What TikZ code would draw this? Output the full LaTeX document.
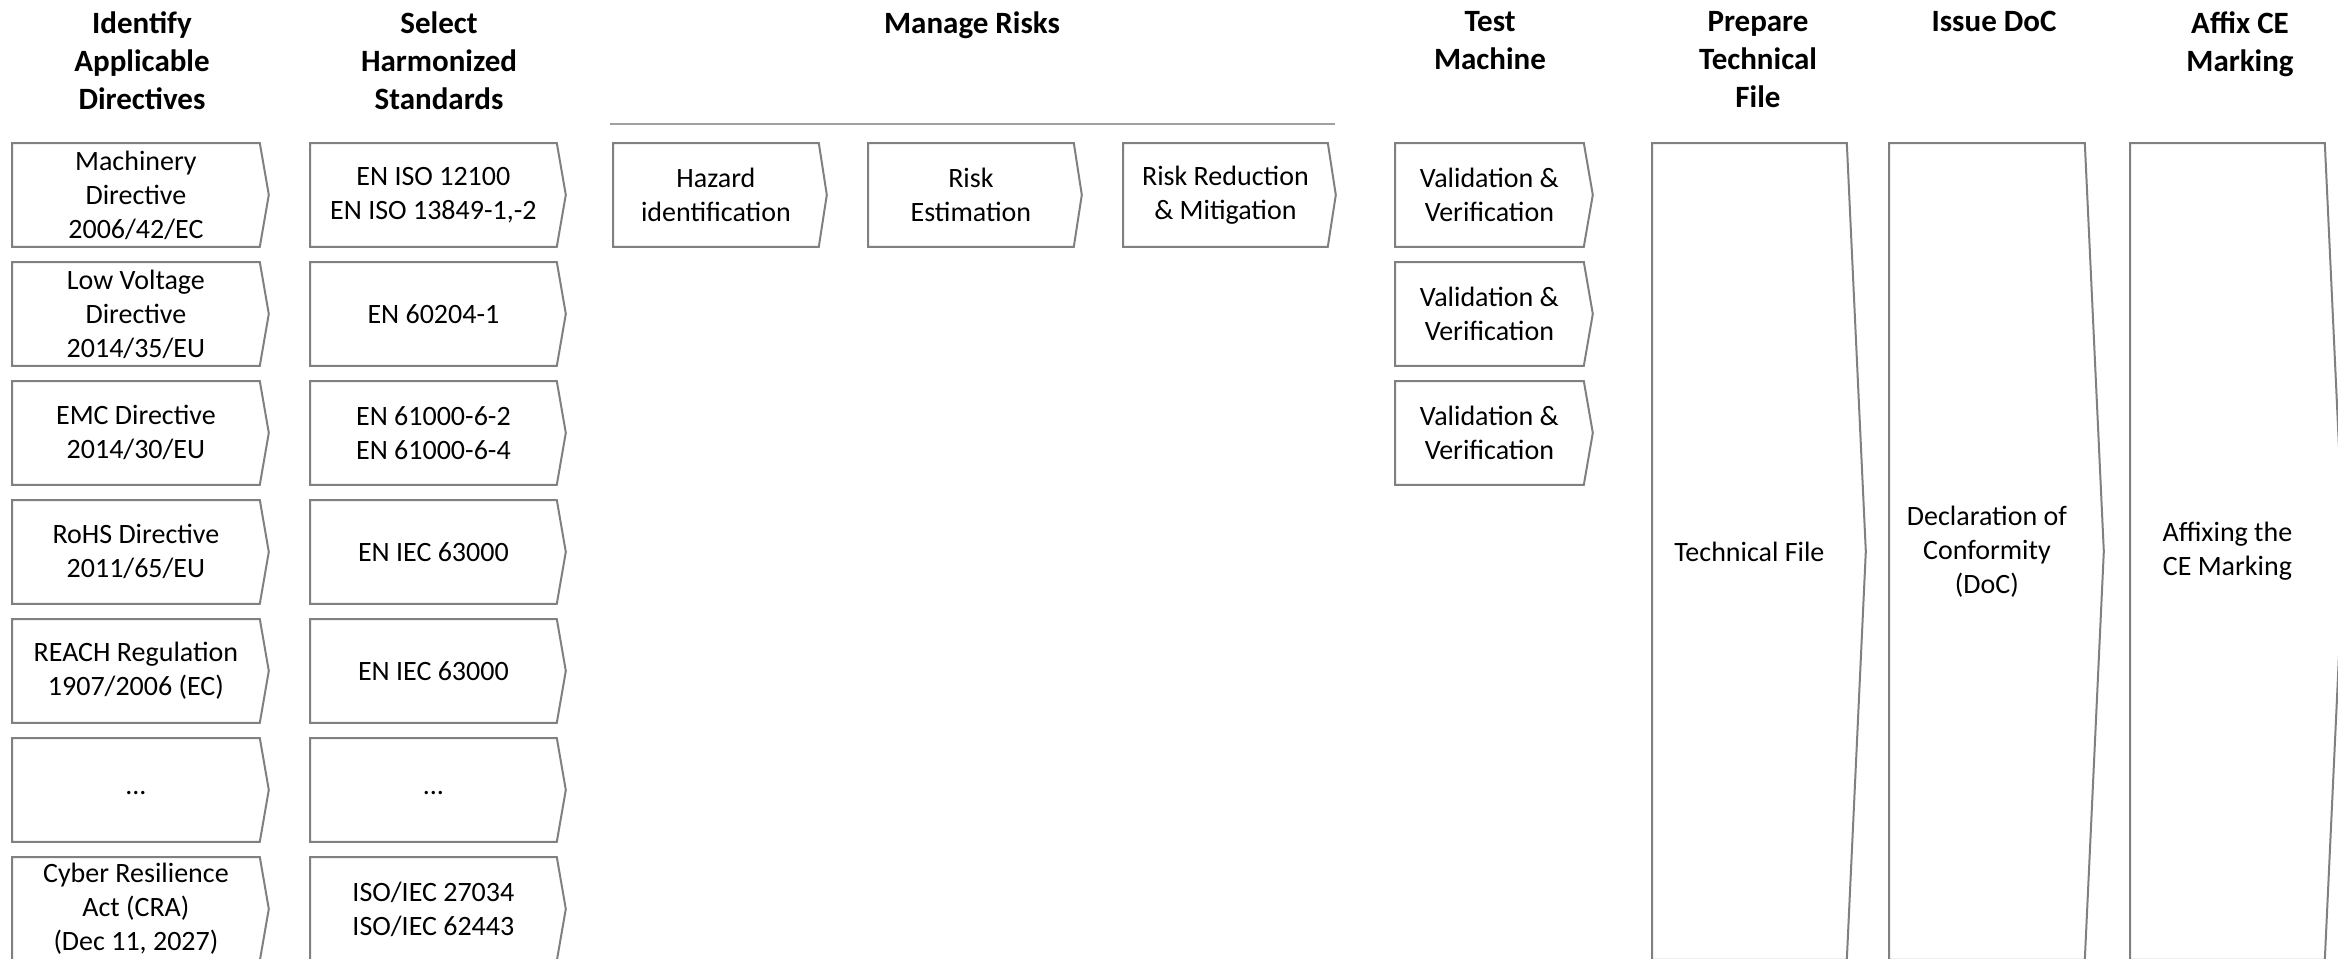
\documentclass[tikz,border=0pt]{standalone}
\usepackage{fontspec}
\setmainfont{Carlito}
\definecolor{edgegray}{RGB}{128,128,128}
\definecolor{rulegray}{RGB}{160,160,160}
\tikzset{
  chevtext/.style={inner sep=0pt, align=center, anchor=north west,
    font=\fontsize{14}{17}\selectfont},
  chevline/.style={draw=edgegray, line width=1pt},
  headtext/.style={inner sep=0pt, align=center, anchor=north,
    font=\bfseries\fontsize{15.5}{19}\selectfont},
  ruleline/.style={draw=rulegray, line width=1pt},
}
% #1 name, #2 left x, #3 top y, #4 width, #5 height, #6 tip depth, #7 text
\newcommand\chevbox[7]{%
  \node[chevtext, minimum width=#4*0.5pt, minimum height=#5*0.5pt] (#1) at (#2,#3) {#7};
  \draw[chevline] (#1.north west) -- (#1.north east) -- ([xshift=#6*0.5pt]#1.east)
    -- (#1.south east) -- (#1.south west) -- cycle;
}
% ellipsis sitting on the text baseline, a little below the middle
\newcommand\moredots{\raisebox{-2.2pt}[0pt][0pt]{...}}
\begin{document}
\begin{tikzpicture}[x=0.5pt, y=-0.5pt]
\useasboundingbox (0,0) rectangle (2338,958);
\begin{scope}
\clip (0,0) rectangle (2338,958);

% column headings
\node[headtext] (h1) at (142,11) {Identify\\Applicable\\Directives};
\node[headtext] (h2) at (439,11) {Select\\Harmonized\\Standards};
\node[headtext] (h3) at (972,11) {Manage Risks};
\node[headtext] (h4) at (1490,11) {Test\\Machine};
\node[headtext] (h5) at (1758,11) {Prepare\\Technical\\File};
\node[headtext] (h6) at (1994,11) {Issue DoC};
\node[headtext] (h7) at (2240,11) {Affix CE\\Marking};

% rule under the risk heading
\coordinate (ruleL) at (610,124);
\coordinate (ruleR) at (1335,124);
\draw[ruleline] (ruleL) -- (ruleR);

% directives
\chevbox{dir1}{12}{143}{247}{103}{9}{Machinery\\Directive\\2006/42/EC}
\chevbox{dir2}{12}{262}{247}{103}{9}{Low Voltage\\Directive\\2014/35/EU}
\chevbox{dir3}{12}{381}{247}{103}{9}{EMC Directive\\2014/30/EU}
\chevbox{dir4}{12}{500}{247}{103}{9}{RoHS Directive\\2011/65/EU}
\chevbox{dir5}{12}{619}{247}{103}{9}{REACH Regulation\\1907/2006 (EC)}
\chevbox{dir6}{12}{738}{247}{103}{9}{\moredots}
\chevbox{dir7}{12}{857}{247}{103}{9}{Cyber Resilience\\Act (CRA)\\(Dec 11, 2027)}

% harmonized standards
\chevbox{std1}{310}{143}{246}{103}{9}{EN ISO 12100\\EN ISO 13849-1,-2}
\chevbox{std2}{310}{262}{246}{103}{9}{EN 60204-1}
\chevbox{std3}{310}{381}{246}{103}{9}{EN 61000-6-2\\EN 61000-6-4}
\chevbox{std4}{310}{500}{246}{103}{9}{EN IEC 63000}
\chevbox{std5}{310}{619}{246}{103}{9}{EN IEC 63000}
\chevbox{std6}{310}{738}{246}{103}{9}{\moredots}
\chevbox{std7}{310}{857}{246}{103}{9}{ISO/IEC 27034\\ISO/IEC 62443}

% risk management steps
\chevbox{hz}{613}{143}{205}{103}{8}{Hazard\\identification}
\chevbox{est}{868}{143}{205}{103}{8}{Risk\\Estimation}
\chevbox{red}{1123}{143}{204}{103}{8}{Risk Reduction\\\& Mitigation}

% testing
\chevbox{val1}{1395}{143}{188}{103}{9}{Validation \&\\Verification}
\chevbox{val2}{1395}{262}{188}{103}{9}{Validation \&\\Verification}
\chevbox{val3}{1395}{381}{188}{103}{9}{Validation \&\\Verification}

% final stages
\chevbox{tf}{1652}{143}{194}{816}{19}{Technical File}
\chevbox{doc}{1889}{143}{195}{816}{19}{Declaration of\\Conformity\\(DoC)}
\chevbox{ce}{2130}{143}{194}{816}{19}{Affixing the\\CE Marking}
\end{scope}
\end{tikzpicture}
\end{document}
